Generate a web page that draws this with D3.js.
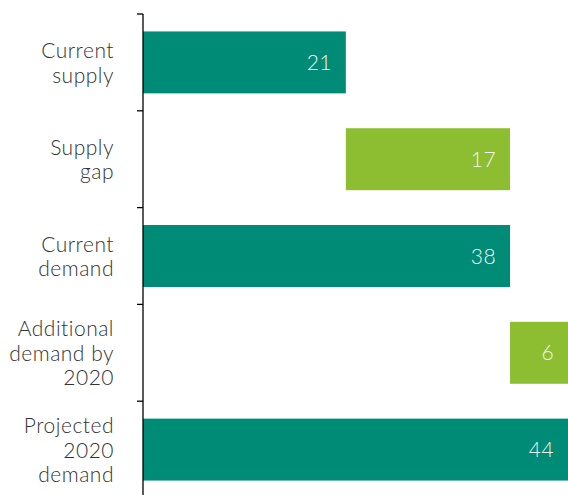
<!DOCTYPE html>
<html>
<head>
<meta charset="utf-8">
<script src="https://cdn.jsdelivr.net/npm/d3@7"></script>
<style>
  body { margin: 0; background: #fff; }
  svg { display: block; }
  .lbl { font-family: Lato, "Noto Sans", sans-serif; font-weight: 300; font-size: 21px; fill: #333; letter-spacing: 0.5px; }
  .val { font-family: Lato, "Noto Sans", sans-serif; font-weight: 300; font-size: 21px; fill: #f2f5ee; letter-spacing: 0.4px; }
</style>
</head>
<body>
<svg width="568" height="495"></svg>
<script>
// categories (label lines) and bar extents
var categories = ["Current supply", "Supply gap", "Current demand", "Additional demand by 2020", "Projected 2020 demand"];
var labelLines = [["Current", "supply"], ["Supply", "gap"], ["Current", "demand"], ["Additional", "demand by", "2020"], ["Projected", "2020", "demand"]];
var starts = [0, 21, 0, 38, 0];
var values = [21, 17, 38, 6, 44];
var kinds = ["total", "delta", "total", "delta", "total"];

var colors = {total: "#008b77", delta: "#8dbe31"};

var svg = d3.select("svg"),
    margin = {top: 14, right: 0, bottom: -3, left: 143},
    width = +svg.attr("width") - margin.left - margin.right,
    height = +svg.attr("height") - margin.top - margin.bottom;

var data = categories.map(function(c, i) {
  return {cat: c, lines: labelLines[i], start: starts[i], value: values[i], kind: kinds[i]};
});

var x = d3.scaleLinear()
    .domain([0, d3.max(data, d => d.start + d.value)])
    .range([0, width]);

var y = d3.scaleBand()
    .domain(categories)
    .range([0, height])
    .paddingInner(0.36)
    .paddingOuter(0.18);

var g = svg.append("g")
    .attr("transform", "translate(" + margin.left + "," + margin.top + ")");

// bars
g.selectAll("rect.bar").data(data).enter().append("rect")
    .attr("class", "bar")
    .attr("x", d => x(d.start))
    .attr("y", d => y(d.cat))
    .attr("width", d => x(d.start + d.value) - x(d.start))
    .attr("height", y.bandwidth())
    .attr("fill", d => colors[d.kind]);

// value labels inside the bar end
g.selectAll("text.val").data(data).enter().append("text")
    .attr("class", "val")
    .attr("text-anchor", "end")
    .attr("x", d => x(d.start + d.value) - 14)
    .attr("y", d => y(d.cat) + y.bandwidth() / 2)
    .attr("dy", "0.36em")
    .text(d => d.value);

// axis line + ticks at band boundaries
var half = (y.step() - y.bandwidth()) / 2;
var axis = g.append("g").attr("class", "axis");
axis.append("line")
    .attr("x1", 0).attr("x2", 0)
    .attr("y1", 0).attr("y2", height)
    .attr("stroke", "#000").attr("stroke-width", 1.3);
axis.selectAll("line.tick").data(categories).enter().append("line")
    .attr("class", "tick")
    .attr("x1", -6).attr("x2", 0)
    .attr("y1", d => y(d) - half)
    .attr("y2", d => y(d) - half)
    .attr("stroke", "#000").attr("stroke-width", 1.3);

// category labels, wrapped
var lineH = 24.5;
var lab = g.selectAll("text.lbl").data(data).enter().append("text")
    .attr("class", "lbl")
    .attr("text-anchor", "end")
    .attr("x", -29)
    .attr("y", d => y(d.cat) + y.bandwidth() / 2);
lab.selectAll("tspan").data(d => d.lines.map((l, i) => ({l: l, i: i, n: d.lines.length})))
  .enter().append("tspan")
    .attr("x", -29)
    .attr("dy", (t) => t.i === 0 ? ((-(t.n - 1) / 2) * lineH + 8) + "px" : lineH + "px")
    .text(t => t.l);
</script>
</body>
</html>
